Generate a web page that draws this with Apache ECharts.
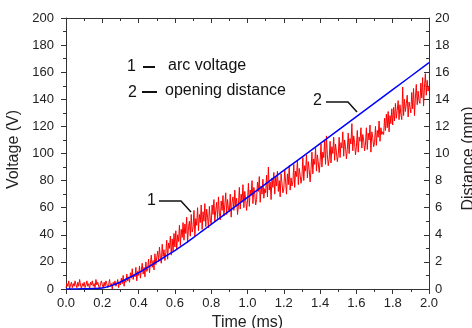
<!DOCTYPE html>
<html>
<head>
<meta charset="utf-8">
<script src="https://cdn.jsdelivr.net/npm/echarts@6/dist/echarts.min.js"></script>
<style>html,body{margin:0;padding:0;background:#fff}#c{width:472px;height:328px}</style>
</head>
<body>
<div id="c"></div>
<script>
// Arc voltage (V), sampled every 0.005 ms from 0.000 to 2.000 ms
const voltageStep = 0.005;
const voltage = [
  1,4,2,6,0,3,5,1,4,2,
  6,3,1,5,2,7,3,0,4,2,
  5,1,3,6,2,4,0,5,3,6,
  2,4,1,7,3,5,2,0,4,6,
  3,1,5,2,6,4,1,3,7,2,
  4,0,5,3,6,2,4,7,1,5,
  3,8,4,10,2,7,5,11,6,9,
  5,12,8,15,7,11,9,16,6,13,
  10,17,8,14,19,11,16,9,20,13,
  15,22,12,19,25,16,21,14,26,18,
  17,28,20,31,23,19,33,24,29,21,
  27,36,22,34,30,39,25,37,28,41,
  31,43,29,40,35,47,32,44,38,49,
  36,48,41,53,34,46,50,39,55,42,
  45,58,39,52,47,60,43,55,49,62,
  44,57,50,63,46,59,53,45,61,51,
  48,62,55,66,50,58,64,52,68,56,
  51,65,58,69,54,62,71,55,66,59,
  57,70,53,64,68,58,73,61,67,55,
  62,75,59,70,64,77,60,72,66,58,
  65,78,61,73,69,80,63,75,70,62,
  66,79,72,83,64,76,70,81,67,74,
  71,84,68,90,73,79,66,82,75,86,
  70,83,76,87,72,80,68,85,78,71,
  74,88,79,70,85,77,91,73,82,76,
  79,92,75,87,83,95,77,89,84,78,
  83,97,80,91,87,99,82,94,88,79,
  88,101,85,96,92,104,87,99,93,86,
  94,107,90,101,97,110,92,113,99,91,
  96,109,93,105,100,112,95,107,101,94,
  99,112,97,108,104,116,98,110,105,96,
  103,115,100,111,107,122,102,113,108,99,
  105,117,101,112,109,119,104,114,110,102,
  107,119,103,115,110,121,101,116,112,105,
  108,120,106,117,112,124,109,119,114,116,
  114,126,117,129,119,131,116,128,122,133,
  121,134,124,137,126,132,139,125,136,129,
  125,149,128,140,131,137,143,127,138,134,
  130,145,133,148,128,141,151,136,146,139,
  137,152,141,156,135,149,159,143,154,146,
  150
];
// Opening distance (mm)
const distTime = [0, 0.05, 0.1, 0.15, 0.2, 0.25, 0.3, 0.35, 0.4, 0.45, 0.5, 0.55, 0.6, 0.65, 0.7, 0.75, 0.8, 1.0, 1.2, 1.4, 1.6, 1.8, 2.0];
const distance = [0, 0, 0.01, 0.03, 0.07, 0.25, 0.52, 0.85, 1.2, 1.6, 2.0, 2.42, 2.84, 3.29, 3.77, 4.27, 4.77, 6.76, 8.75, 10.73, 12.72, 14.71, 16.70];
const timeTicks = {min: 0, max: 2, interval: 0.2};
const voltTicks = {min: 0, max: 200, interval: 20};
const distTicks = {min: 0, max: 20, interval: 2};
const legendLabels = ['arc voltage', 'opening distance'];

const FONT = 'Liberation Sans, Arial, sans-serif';
const AX = '#333';
const chart = echarts.init(document.getElementById('c'), null, {renderer: 'canvas'});
const redData = voltage.map((v, i) => [+(i * voltageStep).toFixed(3), v]);
const blueData = distTime.map((t, i) => [t, distance[i]]);

chart.setOption({
  animation: false,
  backgroundColor: '#fff',
  grid: {left: 66, right: 43, top: 18, bottom: 39, containLabel: false, outerBoundsMode: 'none'},
  xAxis: [{
    type: 'value', position: 'bottom', min: timeTicks.min, max: timeTicks.max, interval: timeTicks.interval,
    name: 'Time (ms)', nameLocation: 'middle', nameGap: 22,
    nameTextStyle: {fontFamily: FONT, fontSize: 16, color: '#222'},
    axisLine: {show: true, lineStyle: {color: AX, width: 1}},
    axisTick: {show: true, inside: false, length: 5, lineStyle: {color: AX}},
    minorTick: {show: true, splitNumber: 2, length: 3, lineStyle: {color: AX}},
    axisLabel: {fontFamily: FONT, fontSize: 13, color: '#222', margin: 8, formatter: v => v.toFixed(1)},
    splitLine: {show: false}
  }, {
    type: 'value', position: 'top', min: timeTicks.min, max: timeTicks.max, interval: timeTicks.interval,
    axisLine: {show: true, onZero: false, lineStyle: {color: AX, width: 1}},
    axisTick: {show: true, inside: true, length: 5, lineStyle: {color: AX}},
    minorTick: {show: true, splitNumber: 2, length: 3, lineStyle: {color: AX}},
    axisLabel: {show: false},
    splitLine: {show: false}
  }],
  yAxis: [{
    type: 'value', position: 'left', min: voltTicks.min, max: voltTicks.max, interval: voltTicks.interval,
    name: 'Voltage (V)', nameLocation: 'middle', nameGap: 38, nameRotate: 90,
    nameTextStyle: {fontFamily: FONT, fontSize: 16, color: '#222', padding: [0, 0, 0, 8]},
    axisLine: {show: true, lineStyle: {color: AX, width: 1}},
    axisTick: {show: true, inside: false, length: 5, lineStyle: {color: AX}},
    minorTick: {show: true, splitNumber: 2, length: 3, lineStyle: {color: AX}},
    axisLabel: {fontFamily: FONT, fontSize: 13, color: '#222', margin: 12},
    splitLine: {show: false}
  }, {
    type: 'value', position: 'right', min: distTicks.min, max: distTicks.max, interval: distTicks.interval,
    name: 'Distance (mm)', nameLocation: 'middle', nameGap: 26, nameRotate: 90,
    nameTextStyle: {fontFamily: FONT, fontSize: 16, color: '#222', padding: [0, 10, 0, 0]},
    axisLine: {show: true, onZero: false, lineStyle: {color: AX, width: 1}},
    axisTick: {show: true, inside: true, length: 5, lineStyle: {color: AX}},
    minorTick: {show: true, splitNumber: 2, length: 3, lineStyle: {color: AX}},
    axisLabel: {fontFamily: FONT, fontSize: 13, color: '#222', margin: 6},
    splitLine: {show: false}
  }],
  series: [{
    name: legendLabels[0], type: 'line', xAxisIndex: 0, yAxisIndex: 0, data: redData,
    showSymbol: false, lineStyle: {color: '#ff0000', width: 1}, z: 2
  }, {
    name: legendLabels[1], type: 'line', xAxisIndex: 0, yAxisIndex: 1, data: blueData,
    showSymbol: false, smooth: 0.3, lineStyle: {color: '#0000ff', width: 1.5}, z: 3
  }],
  graphic: [
    {type: 'text', left: 127, top: 59, style: {text: '1', font: '16px ' + FONT, fill: '#111'}},
    {type: 'line', shape: {x1: 143, y1: 67, x2: 155, y2: 67}, style: {stroke: '#111', lineWidth: 2}},
    {type: 'text', left: 168, top: 58, style: {text: legendLabels[0], font: '16px ' + FONT, fill: '#111'}},
    {type: 'text', left: 128, top: 85, style: {text: '2', font: '16px ' + FONT, fill: '#111'}},
    {type: 'line', shape: {x1: 142, y1: 92, x2: 157, y2: 92}, style: {stroke: '#111', lineWidth: 2}},
    {type: 'text', left: 165, top: 83, style: {text: legendLabels[1], font: '16px ' + FONT, fill: '#111'}},
    {type: 'text', left: 147, top: 193, style: {text: '1', font: '16px ' + FONT, fill: '#111'}},
    {type: 'polyline', shape: {points: [[159, 201], [181, 201], [191, 212]]}, style: {stroke: '#111', lineWidth: 1.5, fill: null}},
    {type: 'text', left: 313, top: 93, style: {text: '2', font: '16px ' + FONT, fill: '#111'}},
    {type: 'polyline', shape: {points: [[326, 102], [348, 102], [357, 112]]}, style: {stroke: '#111', lineWidth: 1.5, fill: null}}
  ]
});
</script>
</body>
</html>
